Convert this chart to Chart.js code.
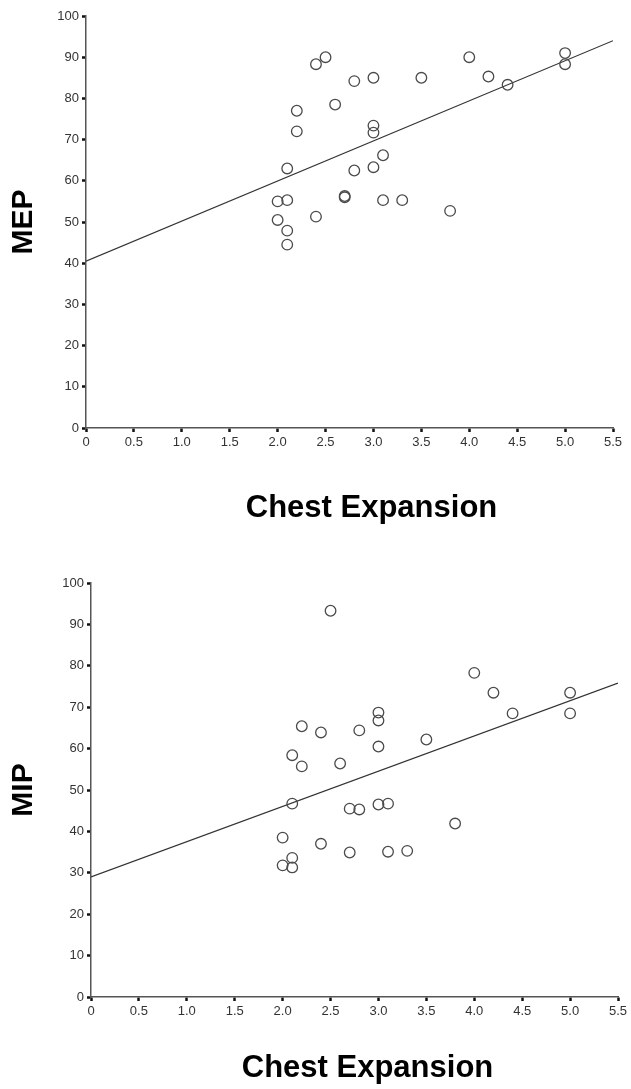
<!DOCTYPE html>
<html>
<head>
<meta charset="utf-8">
<script src="https://cdn.jsdelivr.net/npm/chart.js@4.4.0/dist/chart.umd.min.js"></script>
<style>
  body { margin: 0; background: #fff; }
  .wrap { position: absolute; left: 0; width: 631px; }
  #top { top: 0; height: 545px; }
  #bottom { top: 545px; height: 544px; }
</style>
</head>
<body>
<div class="wrap" id="top"><canvas id="mepChart" width="631" height="545"></canvas></div>
<div class="wrap" id="bottom"><canvas id="mipChart" width="631" height="544"></canvas></div>
<script>
// chest expansion (x) and MEP (y)
const mepX = [2.4, 2.5, 2.8, 3.0, 3.5, 4.0, 4.2, 4.4, 5.0, 5.0, 2.2, 2.2, 2.6, 3.0, 3.0,
  3.1, 3.0, 2.8, 2.1, 2.0, 2.1, 2.7, 2.7, 3.1, 3.3, 3.8, 2.4, 2.0, 2.1, 2.1];
const mepY = [88.3, 90, 84.2, 85, 85, 90, 85.3, 83.3, 91, 88.3, 77, 72, 78.5, 73.4, 71.7,
  66.2, 63.3, 62.5, 63, 55, 55.3, 56, 56.3, 55.3, 55.3, 52.7, 51.3, 50.5, 47.9, 44.5];

// chest expansion (x) and MIP (y), bottom plot
const mipX = [4.0, 4.2, 5.0, 4.4, 5.0, 3.0, 3.0, 2.2, 2.4, 2.8, 3.0, 3.5, 2.1, 2.2, 2.6,
  2.1, 2.7, 2.8, 3.0, 3.1, 3.8, 2.0, 2.4, 2.7, 3.1, 3.3, 2.1, 2.0, 2.1, 2.5];
const mipY = [78.3, 73.5, 73.5, 68.5, 68.5, 68.7, 66.8, 65.4, 63.9, 64.4, 60.5, 62.2, 58.4, 55.7, 56.4,
  46.7, 45.5, 45.3, 46.5, 46.7, 41.9, 38.5, 37, 34.9, 35.1, 35.3, 33.6, 31.8, 31.3, 93.3];

// fitted lines, end points at x = 0 and x = 5.5
const fitX = [0, 5.5];
const mepFit = [40.5, 94.0];
const mipFit = [29.0, 75.8];

const xTicks = [0, 0.5, 1.0, 1.5, 2.0, 2.5, 3.0, 3.5, 4.0, 4.5, 5.0, 5.5];
const yTicks = [0, 10, 20, 30, 40, 50, 60, 70, 80, 90, 100];

const FONT = "'Liberation Sans', Arial, Helvetica, sans-serif";

const toPoints = (xs, ys) => xs.map((x, i) => ({ x: x, y: ys[i] }));

// x axis title, drawn under the plot
const xTitlePlugin = {
  id: "xTitle",
  afterDraw(chart, args, opts) {
    const { ctx, chartArea } = chart;
    ctx.save();
    ctx.font = "bold 31px " + FONT;
    ctx.fillStyle = "#000";
    ctx.textAlign = "center";
    ctx.textBaseline = "middle";
    ctx.fillText(opts.text, (chartArea.left + chartArea.right) / 2 + opts.dx, chartArea.bottom + opts.dy);
    ctx.restore();
  },
};

function makeChart(canvasId, xs, ys, fit, yLabel, cfg) {
  return new Chart(document.getElementById(canvasId), {
    type: "scatter",
    data: {
      datasets: [
        {
          data: toPoints(xs, ys),
          pointStyle: "circle",
          pointRadius: 5.3,
          pointHoverRadius: 5.3,
          borderColor: "#4a4a4a",
          borderWidth: 1.3,
          backgroundColor: "rgba(0,0,0,0)",
        },
        {
          type: "line",
          data: toPoints(fitX, fit),
          borderColor: "#333",
          borderWidth: 1.2,
          pointRadius: 0,
          fill: false,
        },
      ],
    },
    options: {
      responsive: false,
      animation: false,
      layout: {
        padding: { top: cfg.top, right: cfg.right, bottom: cfg.bottom, left: 0 },
      },
      plugins: {
        legend: { display: false },
        tooltip: { enabled: false },
        xTitle: { text: "Chest Expansion", dx: cfg.titleDx, dy: cfg.titleDy },
      },
      scales: {
        x: {
          type: "linear",
          min: 0,
          max: 5.5,
          afterBuildTicks: (s) => { s.ticks = xTicks.map((v) => ({ value: v })); },
          afterFit: (s) => { s.height = 30; },
          ticks: {
            color: "#333",
            padding: 3,
            maxRotation: 0,
            font: { family: FONT, size: 13 },
            callback: (v) => (v === 0 ? "0" : Number(v).toFixed(1)),
          },
          grid: { drawOnChartArea: false, tickLength: 4, tickWidth: 2.5, tickColor: "#111" },
          border: { color: "#555", width: 1.5 },
        },
        y: {
          type: "linear",
          min: 0,
          max: 100,
          afterBuildTicks: (s) => { s.ticks = yTicks.map((v) => ({ value: v })); },
          afterFit: (s) => { s.width = cfg.left; },
          ticks: {
            color: "#333",
            padding: 3,
            font: { family: FONT, size: 13 },
          },
          grid: { drawOnChartArea: false, tickLength: 4, tickWidth: 2.5, tickColor: "#111" },
          border: { color: "#555", width: 1.5 },
          title: {
            display: true,
            text: yLabel,
            color: "#000",
            padding: { top: 6, bottom: 0 },
            font: { family: FONT, size: 30, weight: "bold" },
          },
        },
      },
    },
    plugins: [xTitlePlugin],
  });
}

makeChart("mepChart", mepX, mepY, mepFit, "MEP", {
  top: 16, right: 18, bottom: 87, left: 86, titleDx: 22, titleDy: 80,
});
makeChart("mipChart", mipX, mipY, mipFit, "MIP", {
  top: 38, right: 13, bottom: 62, left: 91, titleDx: 13, titleDy: 71,
});
</script>
</body>
</html>
